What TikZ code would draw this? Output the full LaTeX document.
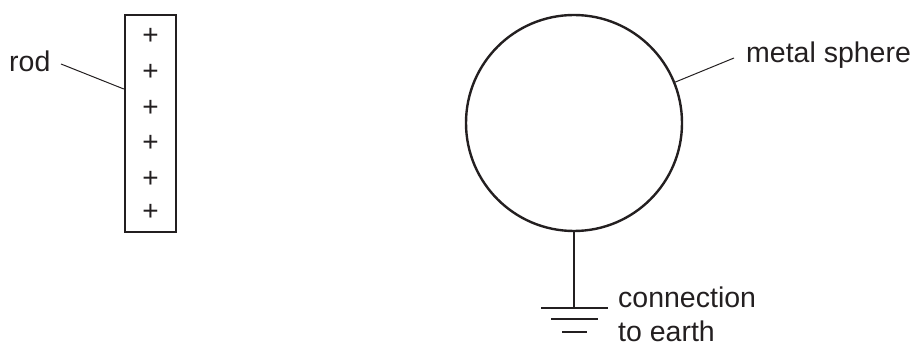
\documentclass[tikz,border=0pt]{standalone}
\usepackage{fontspec}
\setmainfont{Liberation Sans}
\definecolor{ink}{HTML}{231F20}
\begin{document}
\begin{tikzpicture}[x=1pt,y=-1pt,
  lbl/.style={inner sep=0pt,anchor=base west,text=ink,font=\fontsize{28.5}{32}\selectfont},
  plus/.style={inner sep=0pt,text=ink,font=\fontsize{28}{30}\selectfont},
  leader/.style={draw=ink,line width=1pt},
  thick line/.style={draw=ink,line width=2.4pt}]
\useasboundingbox (0,0) rectangle (918,347);
% rod
\node[thick line,draw,rectangle,minimum width=51pt,minimum height=217pt,inner sep=0pt] (rod) at (150.5,123.5) {};
\foreach \i/\y in {1/36,2/72,3/108,4/143,5/179,6/212}
  \node[plus] (p\i) at (150.5,\y) {+};
\node[lbl] (rodlabel) at (9,72) {rod};
\coordinate (rodstart) at (61,64);
\coordinate (rodend) at (rod.west |- 0,89);
\draw[leader] (rodstart) -- (rodend);
% sphere
\node[thick line,draw,circle,minimum size=216pt,inner sep=0pt] (sphere) at (574,123) {};
\node[lbl] (spherelabel) at (746,63) {metal sphere};
\coordinate (spherestart) at (734,58);
\draw[leader] (spherestart) -- (sphere.22);
% earth
\coordinate (g) at (574,308);
\draw[thick line] (sphere.south) -- (g);
\coordinate (g1a) at (541,308); \coordinate (g1b) at (608,308);
\coordinate (g2a) at (551,319); \coordinate (g2b) at (598,319);
\coordinate (g3a) at (562,332); \coordinate (g3b) at (587,332);
\draw[thick line] (g1a) -- (g1b);
\draw[thick line] (g2a) -- (g2b);
\draw[thick line] (g3a) -- (g3b);
\node[lbl] (conn) at (618,308) {connection};
\node[lbl] (earth) at (618,341) {to earth};
\end{tikzpicture}
\end{document}
